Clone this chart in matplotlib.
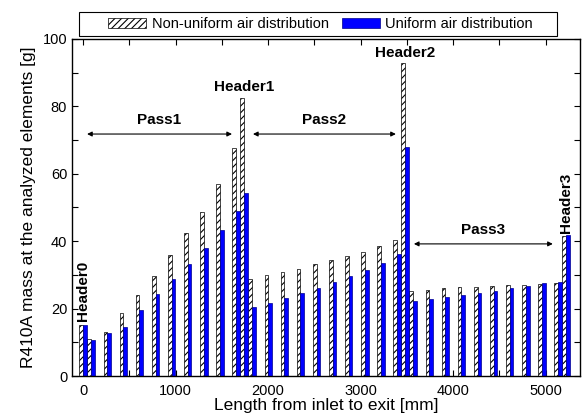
import numpy as np
import matplotlib
matplotlib.use('Agg')
import matplotlib.pyplot as plt
from matplotlib.patches import Rectangle, Patch
from matplotlib.ticker import MultipleLocator

plt.rcParams['font.family'] = ['Liberation Sans', 'DejaVu Sans']
plt.rcParams['hatch.linewidth'] = 0.8

# element spacing along the tube [mm]; headers sit between passes
element_pitch = 174.0
labels = (['Header0'] + ['Pass1'] * 10 + ['Header1'] + ['Pass2'] * 10 +
          ['Header2'] + ['Pass3'] * 10 + ['Header3'])

# R410A mass [g]
non_uniform = [15.1,
               11.0, 13.0, 18.6, 23.9, 29.7, 35.9, 42.4, 48.7, 57.1, 67.8,
               82.5,
               28.8, 30.0, 30.9, 31.8, 33.1, 34.5, 35.5, 36.8, 38.7, 40.5,
               92.8,
               25.3, 25.6, 26.0, 26.4, 26.5, 26.7, 26.9, 27.0, 27.3, 27.6,
               41.5]
uniform = [15.1,
           10.8, 12.8, 14.4, 19.6, 24.3, 28.8, 33.2, 38.1, 43.3, 48.9,
           54.3,
           20.5, 21.8, 23.1, 24.6, 26.1, 27.8, 29.6, 31.6, 33.6, 36.2,
           68.0,
           22.3, 22.8, 23.4, 24.1, 24.7, 25.3, 26.0, 26.8, 27.6, 28.0,
           41.8]

# position of each element: headers at 0, 10, 20, 30 pitches, tubes halfway
pos = []
for i, lab in enumerate(labels):
    if lab.startswith('Header'):
        pos.append(int(lab[-1]) * 10 * element_pitch)
    else:
        n = sum(1 for l in labels[:i] if l == lab)
        p = int(lab[-1]) - 1
        pos.append((p * 10 + n + 0.5) * element_pitch)
pos = np.array(pos)

fig = plt.figure(figsize=(5.84, 4.19), dpi=100)
ax = fig.add_axes([72 / 584, 1 - 376 / 419, 508 / 584, 337 / 419])

w = 40
ax.bar(pos - w / 2, non_uniform, width=w, color='white', edgecolor='black',
       hatch='/////', linewidth=0.5, zorder=2)
ax.bar(pos + w / 2, uniform, width=w, color='#0000FF', edgecolor='#00008B',
       linewidth=0.5, zorder=2)

ax.set_xlim(-120, 5370)
ax.set_ylim(0, 100)
ax.xaxis.set_major_locator(MultipleLocator(1000))
ax.xaxis.set_minor_locator(MultipleLocator(500))
ax.yaxis.set_major_locator(MultipleLocator(20))
ax.yaxis.set_minor_locator(MultipleLocator(10))
ax.tick_params(which='both', direction='in', top=True, right=True,
               length=4, width=0.8, labelsize=10.5)
ax.tick_params(axis='x', pad=6)
for s in ax.spines.values():
    s.set_linewidth(1.0)

ax.set_xlabel('Length from inlet to exit [mm]', fontsize=12.5, labelpad=0)
ax.set_ylabel('R410A mass at the analyzed elements [g]', fontsize=12.5, labelpad=5)

# header labels
bold = dict(fontsize=11, fontweight='bold', ha='center', va='bottom')
ax.text(pos[0], non_uniform[0] + 1.2, 'Header0', rotation=90, **bold)
ax.text(pos[11], non_uniform[11] + 1.2, 'Header1', **bold)
ax.text(pos[22], non_uniform[22] + 1.0, 'Header2', **bold)
ax.text(pos[33], non_uniform[33] + 1.0, 'Header3', rotation=90, **bold)

# pass arrows
arrows = [('Pass1', 43, 1609, 71.8), ('Pass2', 1836, 3380, 71.8), ('Pass3', 3575, 5076, 39.2)]
for name, x0, x1, y in arrows:
    ax.annotate('', xy=(x0, y), xytext=(x1, y),
                arrowprops=dict(arrowstyle='<|-|>', color='black', lw=0.8,
                                mutation_scale=7, shrinkA=0, shrinkB=0))
    ax.text((x0 + x1) / 2, y + 2.0, name, fontsize=11, fontweight='bold',
            ha='center', va='bottom')

# legend above the axes, in its own box
handles = [Patch(facecolor='white', edgecolor='black', hatch='/////', linewidth=0.5),
           Patch(facecolor='#0000FF', edgecolor='#00008B', linewidth=0.5)]
fig.legend(handles, ['Non-uniform air distribution', 'Uniform air distribution'],
           loc='center', bbox_to_anchor=(320.5 / 584, 1 - 24 / 419), ncol=2,
           frameon=False, fontsize=10.5, handlelength=2.6, handleheight=0.7,
           handletextpad=0.4, columnspacing=0.9, borderpad=0.2)
fig.patches.append(Rectangle((79 / 584, 1 - 36 / 419), 478 / 584, 24 / 419,
                             transform=fig.transFigure, fill=False,
                             edgecolor='black', linewidth=0.8))

fig.savefig('out.png', dpi=100)
